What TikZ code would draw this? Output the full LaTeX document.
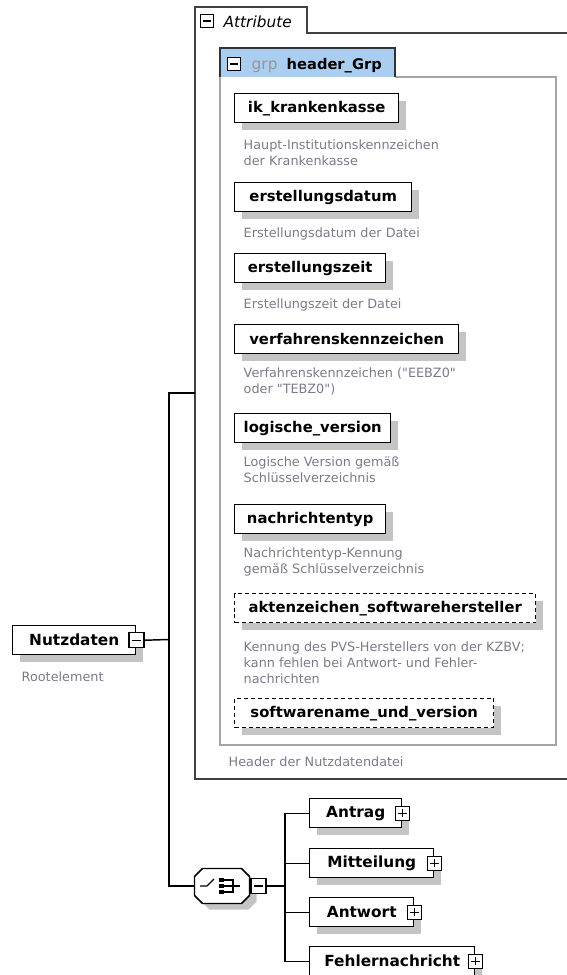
\documentclass[tikz,border=0pt]{standalone}
\usepackage{fontspec}
\setmainfont{DejaVu Sans}[Ligatures=TeXOff]
\usetikzlibrary{shadows}
\definecolor{desctext}{RGB}{122,122,138}
\definecolor{shadowgray}{RGB}{196,196,196}
\definecolor{grpblue}{RGB}{170,205,240}
\definecolor{grpframe}{RGB}{165,165,165}
\definecolor{grptext}{RGB}{150,150,150}

\begin{document}
\begin{tikzpicture}[x=0.75pt,y=-0.75pt,line width=1.1pt,
  elem/.style={draw, fill=white, anchor=north west, inner sep=0pt,
    minimum width=#1*0.75pt, minimum height=29*0.75pt,
    font=\bfseries\fontsize{11.1}{13}\selectfont,
    drop shadow={shadow xshift=5.5pt, shadow yshift=-5.5pt, fill=shadowgray, opacity=1}},
  bigelem/.style={elem=#1, font=\bfseries\fontsize{11.5}{13}\selectfont},
  optelem/.style={elem=#1, dash pattern=on 3pt off 2.2pt},
  desc/.style={anchor=base west, inner sep=0pt, align=left, text=desctext,
    font=\fontsize{9.6}{12}\selectfont},
  pmbox/.style={draw, fill=white, inner sep=0pt, minimum size=#1*0.75pt, line width=1pt},
  minusbox/.style={pmbox=#1, path picture={\draw[line width=1pt]
    ([xshift=2.2pt]path picture bounding box.west) -- ([xshift=-2.2pt]path picture bounding box.east);}},
  plusbox/.style={pmbox=#1, path picture={\draw[line width=1pt]
    ([xshift=2.2pt]path picture bounding box.west) -- ([xshift=-2.2pt]path picture bounding box.east)
    ([yshift=2.2pt]path picture bounding box.south) -- ([yshift=-2.2pt]path picture bounding box.north);}},
]
\useasboundingbox (0,0) rectangle (567,975);

% root element
\node[bigelem=123] (nutz) at (12,625) {Nutzdaten};
\node[minusbox=15] (nutz-m) at (nutz.east) {};
\node[desc] (nutz-d) at (21,681) {Rootelement};

% attribute frame
\draw[black!75, line width=1.5pt] (567,33) -- (307,33) -- (307,7) -- (195,7) -- (195,779) -- (567,779);
\node[minusbox=13] (attr-m) at (207,21) {};
\node[anchor=base west, inner sep=0pt, font=\itshape\fontsize{11.5}{13}\selectfont] (attr) at (223,27) {Attribute};

% header group
\draw[grpframe, line width=1.4pt] (395,77) -- (556,77) -- (556,745) -- (220,745) -- (220,77);
\draw[black!80, fill=grpblue, line width=1.2pt] (220,77) -- (220,48) -- (395,48) -- (395,77);
\node[minusbox=13] (grp-m) at (234,64) {};
\node[anchor=base west, inner sep=0pt, text=grptext, font=\fontsize{11.5}{13}\selectfont] (grp-k) at (251,69) {grp};
\node[anchor=base west, inner sep=0pt, font=\bfseries\fontsize{11}{13}\selectfont] (grp) at (286,69) {header\_Grp};

% (base of a wrapped text = baseline of its last line)
\node[elem=164] (ik) at (234,93) {ik\_krankenkasse};
\node[desc] (ik-d) at (243,165) {Haupt-Institutionskennzeichen\\der Krankenkasse};
\node[elem=177] (datum) at (234,182) {erstellungsdatum};
\node[desc] (datum-d) at (243,237) {Erstellungsdatum der Datei};
\node[elem=151] (zeit) at (234,253) {erstellungszeit};
\node[desc] (zeit-d) at (243,308) {Erstellungszeit der Datei};
\node[elem=224] (verf) at (234,324) {verfahrenskennzeichen};
\node[desc] (verf-d) at (243,393) {Verfahrenskennzeichen ("EEBZ0"\\oder "TEBZ0")};
\node[elem=156] (version) at (234,413) {logische\_version};
\node[desc] (version-d) at (243,482) {Logische Version gemäß\\Schlüsselverzeichnis};
\node[elem=151] (typ) at (234,504) {nachrichtentyp};
\node[desc] (typ-d) at (243,573) {Nachrichtentyp-Kennung\\gemäß Schlüsselverzeichnis};
\node[optelem=301] (akten) at (234,593) {aktenzeichen\_softwarehersteller};
\node[desc] (akten-d) at (243,683) {Kennung des PVS-Herstellers von der KZBV;\\kann fehlen bei Antwort- und Fehler-\\nachrichten};
\node[optelem=259] (swname) at (234,698) {softwarename\_und\_version};
\node[desc] (grp-d) at (228,766) {Header der Nutzdatendatei};

% choice
\node[inner sep=0pt, minimum width=55*0.75pt, minimum height=35*0.75pt] (choice) at (222,886) {};
\begin{scope}[shift={(choice.center)}]
\fill[shadowgray] (-20.5,-3.5) -- (-12.5,-11.5) -- (26.5,-11.5) -- (34.5,-3.5)
  -- (34.5,15.5) -- (26.5,23.5) -- (-12.5,23.5) -- (-20.5,15.5) -- cycle;
\draw[fill=white] (-27.5,-9.5) -- (-19.5,-17.5) -- (19.5,-17.5) -- (27.5,-9.5)
  -- (27.5,9.5) -- (19.5,17.5) -- (-19.5,17.5) -- (-27.5,9.5) -- cycle;
\draw[line width=1pt] (-22,0) -- (-15,0) -- (-8,-7);
\foreach \y in {-6,0,6}
  \fill (-3,\y-2) rectangle (2,\y+2);
\draw[line width=1pt] (2,-6) -- (11,-6) -- (11,6) -- (2,6);
\draw[line width=1pt] (2,0) -- (18,0);
\end{scope}
\node[minusbox=15, anchor=west] (choice-m) at (choice.east) {};

\node[bigelem=92] (antrag) at (309,798) {Antrag};
\node[plusbox=14] (antrag-p) at (antrag.east) {};
\node[bigelem=124] (mitt) at (309,848) {Mitteilung};
\node[plusbox=14] (mitt-p) at (mitt.east) {};
\node[bigelem=104] (antw) at (309,897) {Antwort};
\node[plusbox=14] (antw-p) at (antw.east) {};
\node[bigelem=165] (fehler) at (309,946) {Fehlernachricht};
\node[plusbox=14] (fehler-p) at (fehler.east) {};

% connectors
\coordinate (bus) at (169,639.5);
\coordinate (attr-in) at (195,393);
\coordinate (cbus) at (285,886);
\draw (nutz-m.east) -- (bus);
\draw (attr-in) -| (bus) |- (choice.west);
\draw (choice-m.east) -- (cbus);
\foreach \n in {antrag,mitt,antw,fehler}
  \draw (cbus) |- (\n.west);

\end{tikzpicture}
\end{document}
